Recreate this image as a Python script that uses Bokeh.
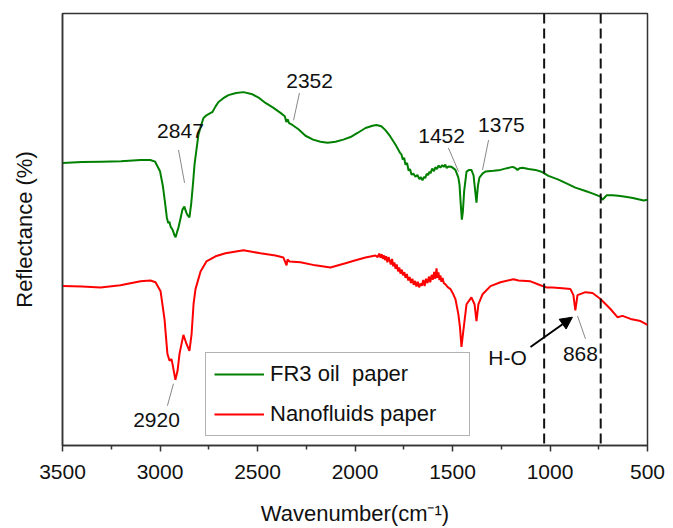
from bokeh.plotting import figure
from bokeh.models import (Range1d, FixedTicker, Span, Label, Arrow, NormalHead,
                          Legend, LegendItem)
from bokeh.embed import file_html
from bokeh.resources import INLINE

# ---------------- data ----------------
fr3_wn = [3500, 3400, 3300, 3200, 3100, 3050, 3025, 3000, 2985, 2975, 2965, 2958, 2952, 2945,
          2936, 2925, 2920, 2912, 2905, 2895, 2885, 2875, 2865, 2857, 2849, 2840, 2830, 2823,
          2813, 2803, 2790, 2777, 2760, 2740, 2731, 2715, 2700, 2675, 2649, 2610, 2572, 2526,
          2490, 2459, 2420, 2382, 2360, 2352, 2345, 2338, 2321, 2290, 2254, 2215, 2177, 2140,
          2100, 2060, 2023, 1985, 1946, 1910, 1890, 1865, 1844, 1820, 1792, 1770, 1762, 1755,
          1748, 1741, 1733, 1725, 1718, 1710, 1700, 1690, 1680, 1670, 1662, 1654, 1646, 1640,
          1632, 1625, 1618, 1613, 1604, 1595, 1588, 1580, 1571, 1562, 1553, 1545, 1537, 1530,
          1521, 1505, 1485, 1470, 1464, 1458, 1452, 1447, 1440, 1428, 1415, 1403, 1392, 1385,
          1377, 1370, 1362, 1345, 1331, 1290, 1254, 1220, 1192, 1180, 1167, 1155, 1141, 1110,
          1075, 1040, 1008, 960, 921, 870, 818, 780, 741, 731, 720, 710, 680, 650, 613, 575,
          536, 520, 500]
fr3_val = [65.4, 65.6, 65.7, 65.8, 66.1, 66.1, 65.7, 63.5, 60.0, 56.5, 52.8, 51.5, 51.8, 50.6,
           50.0, 48.6, 48.2, 49.5, 50.5, 52.5, 54.6, 55.3, 53.9, 53.2, 52.8, 56.0, 61.0, 65.0,
           68.5, 71.9, 74.0, 75.8, 76.5, 77.0, 77.2, 78.5, 79.5, 80.4, 81.1, 81.6, 81.8, 81.3,
           80.4, 79.3, 78.2, 77.0, 76.2, 74.9, 75.5, 74.6, 74.2, 73.2, 71.7, 70.8, 70.3, 70.1,
           70.3, 70.8, 71.4, 72.4, 73.5, 74.0, 74.2, 73.9, 73.0, 71.6, 69.6, 67.8, 67.4, 66.2,
           66.6, 65.0, 65.4, 63.6, 64.0, 62.7, 62.9, 62.2, 62.6, 61.7, 62.1, 61.4, 62.2, 61.9,
           62.9, 62.6, 63.4, 63.0, 64.1, 63.5, 64.4, 64.0, 64.8, 64.3, 64.9, 64.5, 65.0, 64.2,
           64.6, 64.5, 63.8, 62.0, 60.4, 56.0, 52.3, 54.0, 59.0, 63.4, 63.8, 63.8, 62.5, 59.5,
           56.2, 60.0, 62.0, 63.0, 63.4, 63.6, 63.8, 64.2, 64.5, 64.3, 63.8, 64.2, 64.3, 64.0,
           63.8, 63.3, 62.4, 61.6, 60.8, 59.7, 58.9, 58.3, 57.6, 56.9, 57.4, 57.9, 57.9, 57.8,
           57.6, 57.3, 56.9, 56.7, 56.9]

nano_wn = [3500, 3400, 3305, 3203, 3100, 3049, 3023, 2997, 2977, 2962, 2951, 2941, 2936, 2921,
           2910, 2900, 2880, 2864, 2849, 2838, 2828, 2818, 2792, 2762, 2715, 2664, 2572, 2485,
           2408, 2367, 2351, 2346, 2336, 2280, 2203, 2126, 2049, 1997, 1946, 1895, 1884, 1876,
           1869, 1863, 1857, 1851, 1846, 1840, 1834, 1828, 1822, 1816, 1810, 1804, 1798, 1792,
           1786, 1779, 1773, 1767, 1760, 1754, 1747, 1741, 1734, 1727, 1720, 1713, 1706, 1699,
           1692, 1685, 1678, 1671, 1664, 1657, 1650, 1643, 1636, 1628, 1621, 1614, 1607, 1600,
           1594, 1588, 1582, 1577, 1572, 1567, 1562, 1557, 1551, 1545, 1536, 1523, 1510, 1498,
           1485, 1470, 1462, 1454, 1444, 1428, 1403, 1387, 1377, 1367, 1346, 1305, 1254, 1187,
           1162, 1100, 1049, 1018, 987, 936, 895, 880, 870, 859, 818, 782, 741, 690, 654, 628,
           587, 536, 500]
nano_val = [36.9, 36.8, 36.6, 37.1, 38.0, 38.2, 37.8, 35.7, 29.3, 21.2, 19.6, 20.0, 18.9, 15.2,
            17.3, 21.2, 25.6, 23.5, 21.9, 25.8, 32.7, 36.2, 40.3, 42.6, 43.8, 44.5, 45.2, 44.5,
            44.0, 43.5, 41.7, 43.1, 42.6, 42.4, 41.7, 41.2, 42.2, 42.9, 43.5, 44.0, 43.6, 44.4,
            43.5, 44.3, 43.2, 44.0, 42.9, 43.8, 42.4, 43.6, 42.8, 41.9, 43.2, 41.5, 42.4, 40.9,
            41.9, 40.3, 41.2, 39.8, 40.7, 39.4, 40.1, 38.8, 39.7, 38.2, 39.0, 37.6, 38.6, 37.2,
            38.1, 36.8, 37.9, 36.6, 37.5, 37.0, 38.3, 36.9, 38.6, 37.6, 39.1, 37.8, 39.5, 38.4,
            40.2, 38.6, 41.0, 38.8, 40.1, 38.3, 39.4, 37.9, 38.8, 37.6, 37.3, 36.6, 36.2, 35.2,
            33.9, 30.4, 27.5, 22.8, 26.7, 32.7, 34.3, 32.7, 28.8, 32.7, 35.0, 36.9, 37.8, 38.5,
            38.2, 38.0, 37.1, 36.6, 36.6, 36.4, 36.2, 34.8, 31.3, 34.8, 35.5, 35.3, 33.9, 31.6,
            29.7, 30.0, 29.3, 28.8, 27.9]

series_names = ["FR3 oil  paper", "Nanofluids paper"]
series_colors = ["#008000", "#ff0000"]
x_ticks = [3500, 3000, 2500, 2000, 1500, 1000, 500]
x_minor = [3250, 2750, 2250, 1750, 1250, 750]
dashed_positions = [1030, 740]

FONT = "Liberation Sans"

p = figure(width=673, height=528, output_backend="svg", toolbar_location=None,
           x_range=Range1d(3500, 500), y_range=Range1d(0, 100),
           min_border_left=62, min_border_right=26, min_border_top=13, min_border_bottom=81)
p.background_fill_color = "white"
p.border_fill_color = "white"
p.grid.visible = False
p.outline_line_color = "#333333"
p.outline_line_width = 1.5

# x axis
xa = p.xaxis[0]
xa.ticker = FixedTicker(ticks=x_ticks, minor_ticks=x_minor)
xa.major_label_text_font = FONT
xa.major_label_text_font_size = "21px"
xa.major_label_text_color = "#111111"
xa.major_tick_in = 0
xa.major_tick_out = 6
xa.minor_tick_in = 0
xa.minor_tick_out = 4
xa.major_tick_line_width = 1.5
xa.minor_tick_line_width = 1.5
xa.major_tick_line_color = "#333333"
xa.minor_tick_line_color = "#333333"
xa.axis_line_color = "#333333"
xa.axis_line_width = 1.5
xa.major_label_standoff = 13
xa.axis_label = "Wavenumber(cm\u207b\u00b9)"
xa.axis_label_text_font = FONT
xa.axis_label_text_font_style = "normal"
xa.axis_label_text_font_size = "22px"
xa.axis_label_text_color = "#111111"
xa.axis_label_standoff = 19

# y axis (no ticks, no tick labels)
ya = p.yaxis[0]
ya.ticker = FixedTicker(ticks=[], minor_ticks=[])
ya.major_tick_line_color = None
ya.minor_tick_line_color = None
ya.major_label_standoff = 0
ya.major_tick_out = 0
ya.minor_tick_out = 0
ya.axis_line_color = "#333333"
ya.axis_line_width = 1.5
ya.axis_label = "Reflectance (%)"
ya.axis_label_text_font = FONT
ya.axis_label_text_font_style = "normal"
ya.axis_label_text_font_size = "22px"
ya.axis_label_text_color = "#111111"
ya.axis_label_standoff = 26

# dashed lines
for pos in dashed_positions:
    p.add_layout(Span(location=pos, dimension="height", line_color="#111111",
                      line_width=2, line_dash="10 5"))

# spectra
r1 = p.line(fr3_wn, fr3_val, line_color=series_colors[0], line_width=2)
r2 = p.line(nano_wn, nano_val, line_color=series_colors[1], line_width=2)

legend = Legend(items=[LegendItem(label=series_names[0], renderers=[r1]),
                       LegendItem(label=series_names[1], renderers=[r2])],
                location=(143, 9))
legend.label_text_font = FONT
legend.label_text_font_size = "22px"
legend.label_text_color = "#111111"
legend.border_line_color = "#666666"
legend.border_line_width = 1
legend.background_fill_alpha = 1
legend.glyph_width = 50
legend.glyph_height = 22
legend.label_height = 22
legend.label_standoff = 6
legend.spacing = 14
legend.padding = 8
legend.margin = 0
legend.label_width = 191
p.add_layout(legend, "center")

# peak annotations
ann_text = ["2847", "2352", "1452", "1375", "2920", "868", "H-O"]
ann_x = [2895, 2233, 1556, 1249, 3018, 844, 1218]
ann_y = [72.8, 84.3, 71.7, 74.2, 6.0, 21.2, 20.3]
for t, x, y in zip(ann_text, ann_x, ann_y):
    p.add_layout(Label(x=x, y=y, text=t, text_font=FONT, text_font_size="21px",
                       text_color="#111111", text_align="center", text_baseline="middle"))

lead_x0 = [2905, 2285, 1521, 1315, 2931, 818]
lead_y0 = [68.4, 81.6, 68.9, 70.7, 14.3, 24.7]
lead_x1 = [2874, 2315, 1469, 1346, 2962, 859]
lead_y1 = [60.8, 75.3, 63.4, 63.8, 9.2, 30.0]
p.segment(lead_x0, lead_y0, lead_x1, lead_y1, line_color="#888888", line_width=1)

p.add_layout(Arrow(x_start=1100, y_start=22.8, x_end=885, y_end=29.7,
                   line_color="#000000", line_width=2,
                   end=NormalHead(size=12, fill_color="#000000", line_color="#000000")))

open("out.html", "w").write(file_html(p, INLINE))
